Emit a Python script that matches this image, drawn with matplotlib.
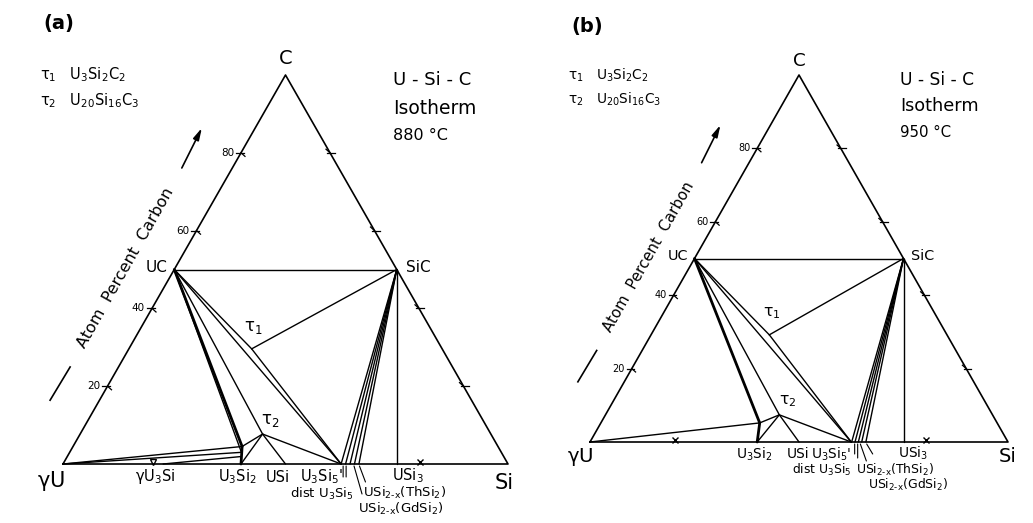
import matplotlib.pyplot as plt
from matplotlib.transforms import Affine2D, ScaledTranslation

plt.rcParams['font.family'] = ['DejaVu Sans']
plt.rcParams['mathtext.default'] = 'regular'

# compositions in at.% (Si, C); U is the remainder
U = (0, 0)
SI = (100, 0)
C = (0, 100)
UC = (0, 50)
SIC = (50, 50)
U3SI2 = (40, 0)
USI = (50, 0)
U3SI5 = (62.5, 0)
USI3 = (75, 0)

# 880 C isotherm
TAU1_A = (27.6, 29.6)
TAU2_A = (41.0, 7.7)
U3SI2_HI_A = (38.0, 4.5)
U3SI2_LO_A = (38.6, 3.0)
U3SI_A = (22.5, 0)
U3SI2_C_A = (38.9, 1.9)
FAN_A = [62.5, 63.5, 64.5, 65.5, 66.5]

# 950 C isotherm
TAU1_B = (28.3, 29.2)
TAU2_B = (41.6, 7.4)
U3SI2_HI_B = (38.0, 5.2)
FAN_B = [62.6, 63.4, 64.2, 65.0, 66.0]

EDGE_TICKS = [20, 40, 60, 80]

TIES_A = [(UC, SIC), (SIC, TAU1_A), (UC, TAU1_A), (TAU1_A, U3SI5), (UC, U3SI5),
          (UC, U3SI2_LO_A), (UC, TAU2_A), (TAU2_A, U3SI2_HI_A), (TAU2_A, U3SI2),
          (TAU2_A, USI), (TAU2_A, U3SI5), (U, U3SI2_HI_A), (U, U3SI2_LO_A),
          (U3SI_A, U3SI2_C_A), (SIC, USI3)]
THICK_A = [(UC, U3SI2_HI_A), (U3SI2, U3SI2_HI_A)]

TIES_B = [(UC, SIC), (SIC, TAU1_B), (UC, TAU1_B), (TAU1_B, U3SI5), (UC, U3SI5),
          (UC, TAU2_B), (TAU2_B, U3SI2_HI_B), (TAU2_B, U3SI2), (TAU2_B, USI),
          (TAU2_B, U3SI5), (U, U3SI2_HI_B), (SIC, USI3)]
THICK_B = [(UC, U3SI2_HI_B), (U3SI2, U3SI2_HI_B)]

W, H = 1033, 523
fig = plt.figure(figsize=(W / 100, H / 100), dpi=100)

cart = Affine2D().from_values(0.01, 0, 0.005, 0.00866, 0, 0)


def make_axes(left, right, corner, base, height):
    ax = fig.add_axes([left / W, 0, (right - left) / W, 1])
    sy = height / 0.866
    ax.set_xlim((left - corner[0]) / base, (right - corner[0]) / base)
    ax.set_ylim((corner[1] - H) / sy, corner[1] / sy)
    ax.set_autoscale_on(False)
    ax.axis('off')
    return ax


def px(ax, dx, dy):
    return cart + ax.transData + ScaledTranslation(dx / 100, dy / 100, fig.dpi_scale_trans)


def draw_panel(ax, s, ties, thick, fan, tau1, tau2, labels, leaders, base_marks, tag, temp):
    tr = cart + ax.transData
    kw = dict(color='black', transform=tr, solid_capstyle='round')

    ax.plot([U[0], SI[0], C[0], U[0]], [U[1], SI[1], C[1], U[1]], lw=1.2, **kw)
    for p, q in ties:
        ax.plot([p[0], q[0]], [p[1], q[1]], lw=1.0, **kw)
    for p, q in thick:
        ax.plot([p[0], q[0]], [p[1], q[1]], lw=2.0, **kw)
    for si in fan:
        ax.plot([SIC[0], si], [SIC[1], 0], lw=1.0, **kw)

    # edge ticks
    for t in EDGE_TICKS:
        x, y = cart.transform((0, t))
        ax.plot([x - 0.012, x + 0.006], [y, y], color='k', lw=0.9)
        ax.plot([x, x + 0.009], [y, y - 0.008], color='k', lw=0.9)
        ax.text(x - 0.016, y, str(t), fontsize=7.5 * s, ha='right', va='center')
        x, y = cart.transform((100 - t, t))
        ax.plot([x - 0.006, x + 0.012], [y, y], color='k', lw=0.9)
        ax.plot([x, x - 0.009], [y, y + 0.008], color='k', lw=0.9)
    for si, m in base_marks:
        ax.plot([si], [0.6], marker=m, ms=5 * s, mfc='none', mec='k', mew=1.0, transform=tr)

    # phase labels
    for text, p, off, ha, fs in labels:
        ax.annotate(text, xy=p, xycoords=tr, xytext=off, textcoords='offset pixels',
                    ha=ha, va='center', fontsize=fs * s)
    for p, a, b in leaders:
        ax.annotate('', xy=p, xycoords=px(ax, *b), xytext=p, textcoords=px(ax, *a),
                    arrowprops=dict(arrowstyle='-', lw=0.8, shrinkA=0, shrinkB=0))

    # axis title with arrow
    ax.text(0.141, 0.437, 'Atom  Percent  Carbon', rotation=60.6, rotation_mode='anchor',
            ha='center', va='center', fontsize=11.5 * s)
    ax.plot([-0.029, 0.016], [0.142, 0.216], color='k', lw=1.2)
    ax.annotate('', xy=(0.312, 0.748), xytext=(0.267, 0.659),
                arrowprops=dict(arrowstyle='-|>,head_length=0.7,head_width=0.18',
                                color='k', lw=1.2, shrinkA=0, shrinkB=0))

    ax.text(-0.045, 0.98, tag, fontsize=14, fontweight='bold', ha='left', va='center')
    ax.text(-0.052, 0.866, r'$\tau_1$   U$_3$Si$_2$C$_2$', fontsize=10.5 * s, ha='left', va='center')
    ax.text(-0.052, 0.809, r'$\tau_2$   U$_{20}$Si$_{16}$C$_3$', fontsize=10.5 * s, ha='left', va='center')
    ax.text(0.742, 0.855, 'U - Si - C', fontsize=13 * s, ha='left', va='center')
    ax.text(0.742, 0.792, 'Isotherm', fontsize=13.5 * s, ha='left', va='center')
    ax.text(0.742, 0.731, temp, fontsize=11.5 * s, ha='left', va='center')

    ax.annotate(r'$\tau_1$', xy=tau1, xycoords=tr, xytext=(2, 22), textcoords='offset pixels',
                ha='center', va='center', fontsize=12 * s)
    ax.annotate(r'$\tau_2$', xy=tau2, xycoords=tr, xytext=(8, 14), textcoords='offset pixels',
                ha='center', va='center', fontsize=12 * s)


SUB = r'$_{2‐x}$'

ax_a = make_axes(0, 516, (63, 464), 445, 389)
labels_a = [
    ('C', C, (0, 16), 'center', 14),
    (r'$\gamma$U', U, (-12, -17), 'center', 15),
    ('Si', SI, (-4, -19), 'center', 15),
    ('UC', UC, (-7, 2), 'right', 11),
    ('SiC', SIC, (9, 2), 'left', 11),
    (r'$\gamma$U$_3$Si', (20, 0), (3, -13), 'center', 10.5),
    (r'U$_3$Si$_2$', U3SI2, (-4, -13), 'center', 10.5),
    ('USi', USI, (-8, -13), 'center', 10.5),
    (r"U$_3$Si$_5$'", U3SI5, (2, -13), 'right', 10.5),
    (r'USi$_3$', USI3, (11, -12), 'center', 10.5),
    (r'dist U$_3$Si$_5$', (63.5, 0), (8, -30), 'right', 9.5),
    ('USi' + SUB + r'(ThSi$_2$)', (65.5, 0), (9, -29), 'left', 9.5),
    ('USi' + SUB + r'(GdSi$_2$)', (66.5, 0), (-1, -45), 'left', 9.5),
]
leaders_a = [((62.5, 0), (2, -2), (2, -13)), ((62.5, 0), (5, -2), (5, -13)),
             ((64.5, 0), (4, -2), (12, -30)), ((65.5, 0), (5, -2), (11, -18))]
draw_panel(ax_a, 1.0, TIES_A, THICK_A, FAN_A, TAU1_A, TAU2_A, labels_a, leaders_a,
           [(20, 'v'), (80, 'x')], '(a)', '880 °C')

ax_b = make_axes(516, 1033, (590, 442), 418, 367)
labels_b = [
    ('C', C, (0, 14), 'center', 14),
    (r'$\gamma$U', U, (-10, -15), 'center', 15),
    ('Si', SI, (0, -15), 'center', 15),
    ('UC', UC, (-6, 3), 'right', 11),
    ('SiC', SIC, (8, 3), 'left', 11),
    (r'U$_3$Si$_2$', U3SI2, (-3, -12), 'center', 10.5),
    ('USi', USI, (-1, -12), 'center', 10.5),
    (r"U$_3$Si$_5$'", U3SI5, (0, -12), 'right', 10.5),
    (r'USi$_3$', USI3, (10, -11), 'center', 10.5),
    (r'dist U$_3$Si$_5$', (63.4, 0), (-3, -28), 'right', 9.5),
    ('USi' + SUB + r'(ThSi$_2$)', (65.0, 0), (-6, -28), 'left', 9.5),
    ('USi' + SUB + r'(GdSi$_2$)', (66.0, 0), (2, -43), 'left', 9.5),
]
leaders_b = [((62.6, 0), (3, -2), (3, -12)), ((62.6, 0), (6, -2), (6, -16)),
             ((64.2, 0), (2, -2), (8, -19)), ((65.0, 0), (5, -2), (11, -12))]
draw_panel(ax_b, 0.94, TIES_B, THICK_B, FAN_B, TAU1_B, TAU2_B, labels_b, leaders_b,
           [(20, 'x'), (80, 'x')], '(b)', '950 °C')

fig.savefig('out.png', dpi=100, facecolor='white')
